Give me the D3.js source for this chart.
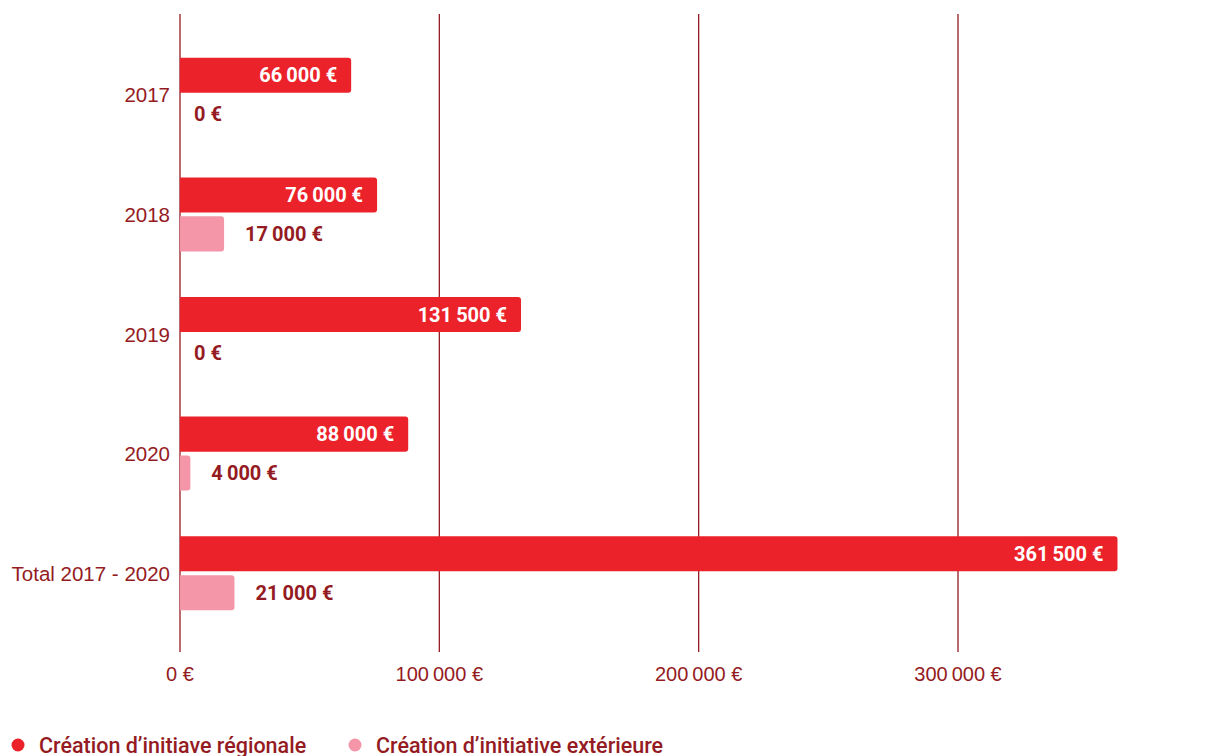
<!DOCTYPE html>
<html><head><meta charset="utf-8">
<script src="https://cdn.jsdelivr.net/npm/d3@7"></script>
<style>body{margin:0;background:#fff}</style>
</head><body><svg id="c" width="1209" height="756"></svg>
<script>
const categories = ["2017", "2018", "2019", "2020", "Total 2017 - 2020"];
const series = ["Création d’initiave régionale", "Création d’initiative extérieure"];
const regionale = [66000, 76000, 131500, 88000, 361500];
const exterieure = [0, 17000, 0, 4000, 21000];
const xTicks = [0, 100000, 200000, 300000];

const colors = ["#EC222A", "#F495A8"];
const dark = "#951B23";
const svg = d3.select("#c");
const x = d3.scaleLinear().domain([0, 300000]).range([180, 958]);
const y = d3.scaleBand().domain(categories).range([35, 633]);
const y1 = d3.scaleBand().domain(series).range([-37, 37]).paddingInner(0.1);
const fmt = v => d3.format(",")(v).replace(/,/g, "\u2009") + "\u00A0€";

// grid lines
svg.append("g").selectAll("line").data(xTicks).join("line")
  .attr("x1", d => x(d)).attr("x2", d => x(d))
  .attr("y1", 14).attr("y2", 652)
  .attr("stroke", dark).attr("stroke-width", 1.3);

// axis labels
svg.append("g").selectAll("text").data(xTicks).join("text")
  .attr("x", d => x(d)).attr("y", 681).attr("text-anchor", "middle")
  .attr("font-family", "Liberation Sans, Arial, sans-serif").attr("font-size", 20)
  .attr("fill", dark).text(d => fmt(d));

// category labels
svg.append("g").selectAll("text").data(categories).join("text")
  .attr("x", 170).attr("y", d => y(d) + y.bandwidth() / 2 + 7.5).attr("text-anchor", "end")
  .attr("font-family", "Liberation Sans, Arial, sans-serif").attr("font-size", 20.5)
  .attr("fill", dark).text(d => d);

const rows = [];
categories.forEach((c, i) => {
  rows.push({c, s: series[0], v: regionale[i], k: 0});
  rows.push({c, s: series[1], v: exterieure[i], k: 1});
});

function barPath(x0, x1, y0, h, r) {
  const w = x1 - x0;
  if (w <= 0) return "";
  r = Math.min(r, w, h / 2);
  return `M${x0},${y0}H${x1 - r}Q${x1},${y0} ${x1},${y0 + r}V${y0 + h - r}Q${x1},${y0 + h} ${x1 - r},${y0 + h}H${x0}Z`;
}

const g = svg.append("g");
g.selectAll("path").data(rows).join("path")
  .attr("d", d => {
    const yy = y(d.c) + y.bandwidth() / 2 + y1(d.s);
    return barPath(x(0), x(d.v), yy, y1.bandwidth(), 3);
  })
  .attr("fill", d => colors[d.k]);

g.selectAll("text").data(rows).join("text")
  .attr("x", d => d.k === 0 ? x(d.v) - 14 : (d.v === 0 ? x(0) + 14 : x(d.v) + 21))
  .attr("y", d => y(d.c) + y.bandwidth() / 2 + y1(d.s) + y1.bandwidth() / 2 + 7)
  .attr("text-anchor", d => d.k === 0 ? "end" : "start")
  .attr("font-family", "Roboto, sans-serif").attr("font-weight", 700).attr("font-size", 20)
  .attr("fill", d => d.k === 0 ? "#fff" : dark)
  .text(d => fmt(d.v));

// legend
const lx = [18, 355];
const lg = svg.append("g").selectAll("g").data(series).join("g")
  .attr("transform", (d, i) => `translate(${lx[i]},745)`);
lg.append("circle").attr("r", 6.5).attr("fill", (d, i) => colors[i]);
lg.append("text").attr("x", 21).attr("y", 7.5)
  .attr("font-family", "Roboto, sans-serif").attr("font-weight", 500).attr("font-size", 21.5)
  .attr("fill", dark).text(d => d);
</script></body></html>
